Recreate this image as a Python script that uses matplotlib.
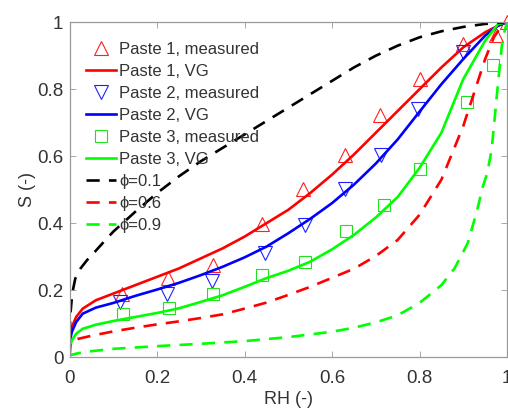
import numpy as np
import matplotlib
matplotlib.use('Agg')
import matplotlib.pyplot as plt

plt.rcParams['font.family'] = ['Liberation Sans', 'DejaVu Sans']

# measured points
p1_rh = [0.119, 0.226, 0.329, 0.441, 0.534, 0.630, 0.710, 0.800, 0.900, 0.976, 1.0]
p1_s = [0.19, 0.235, 0.275, 0.397, 0.503, 0.603, 0.722, 0.830, 0.936, 0.961, 1.0]
p2_rh = [0.115, 0.222, 0.325, 0.447, 0.538, 0.630, 0.712, 0.796, 0.900]
p2_s = [0.165, 0.19, 0.228, 0.31, 0.394, 0.503, 0.603, 0.742, 0.911]
p3_rh = [0.122, 0.228, 0.329, 0.439, 0.538, 0.632, 0.719, 0.800, 0.908, 0.968]
p3_s = [0.13, 0.148, 0.19, 0.245, 0.283, 0.376, 0.455, 0.563, 0.763, 0.873]

# VG fits
vg1_rh = [0, 0.001, 0.005, 0.015, 0.03, 0.06, 0.1, 0.15, 0.2, 0.25, 0.3, 0.35, 0.4,
          0.45, 0.5, 0.55, 0.6, 0.65, 0.7, 0.75, 0.8, 0.85, 0.9, 0.95, 0.98, 1.0]
vg1_s = [0, 0.06, 0.09, 0.12, 0.145, 0.17, 0.19, 0.215, 0.24, 0.265, 0.295, 0.325, 0.36,
         0.40, 0.44, 0.49, 0.545, 0.605, 0.67, 0.735, 0.80, 0.865, 0.925, 0.97, 0.99, 1.0]
vg2_rh = vg1_rh
vg2_s = [0, 0.05, 0.075, 0.105, 0.13, 0.148, 0.162, 0.183, 0.202, 0.222, 0.245, 0.27, 0.298,
         0.33, 0.37, 0.413, 0.46, 0.515, 0.578, 0.65, 0.733, 0.815, 0.89, 0.96, 0.99, 1.0]
vg3_rh = vg1_rh
vg3_s = [0, 0.03, 0.05, 0.07, 0.085, 0.097, 0.108, 0.12, 0.132, 0.146, 0.165, 0.185, 0.21,
         0.236, 0.258, 0.285, 0.322, 0.365, 0.417, 0.478, 0.565, 0.67, 0.83, 0.945, 0.995, 1.0]

# phi curves
phi1_rh = [0, 0.0005, 0.002, 0.006, 0.013, 0.025, 0.04, 0.06, 0.08, 0.1, 0.15, 0.2, 0.25, 0.3,
           0.35, 0.4, 0.45, 0.5, 0.55, 0.6, 0.65, 0.7, 0.75, 0.8, 0.85, 0.9, 0.95, 1.0]
phi1_s = [0, 0.08, 0.13, 0.19, 0.235, 0.265, 0.29, 0.318, 0.347, 0.375, 0.434, 0.49, 0.54, 0.585,
          0.625, 0.665, 0.705, 0.745, 0.785, 0.825, 0.865, 0.9, 0.93, 0.955, 0.973, 0.986, 0.995, 1.0]
phi6_rh = [0, 0.001, 0.003, 0.02, 0.05, 0.1, 0.15, 0.2, 0.25, 0.3, 0.35, 0.4, 0.45, 0.5,
           0.55, 0.6, 0.65, 0.7, 0.75, 0.8, 0.85, 0.9, 0.95, 0.97, 0.99, 1.0]
phi6_s = [0, 0.03, 0.045, 0.055, 0.064, 0.077, 0.088, 0.098, 0.107, 0.117, 0.128, 0.145, 0.163,
          0.186, 0.21, 0.237, 0.264, 0.302, 0.35, 0.425, 0.53, 0.69, 0.89, 0.955, 0.995, 1.0]
phi9_rh = [0, 0.001, 0.02, 0.05, 0.1, 0.2, 0.3, 0.4, 0.5, 0.6, 0.65, 0.7, 0.75, 0.8, 0.85,
           0.88, 0.91, 0.93, 0.945, 0.955, 0.965, 0.976, 0.985, 0.99, 1.0]
phi9_s = [0, 0.006, 0.012, 0.018, 0.025, 0.033, 0.04, 0.048, 0.06, 0.076, 0.088, 0.104, 0.125,
          0.162, 0.215, 0.265, 0.34, 0.43, 0.51, 0.55, 0.62, 0.77, 0.89, 0.95, 1.0]

fig = plt.figure(figsize=(5.08, 4.12), dpi=100)
ax = fig.add_axes([0.137, 0.133, 0.861, 0.813])

lw = 1.9
ms = 10
dash = (5, 3.5)

ax.plot(p1_rh, p1_s, '^', ms=ms, mfc='none', mec='#ff2020', mew=0.8, clip_on=False,
        label='Paste 1, measured')
ax.plot(vg1_rh, vg1_s, '-', color='#ff0000', lw=lw, label='Paste 1, VG')
ax.plot(p2_rh, p2_s, 'v', ms=ms, mfc='none', mec='#2020ff', mew=0.8, clip_on=False,
        label='Paste 2, measured')
ax.plot(vg2_rh, vg2_s, '-', color='#0000ff', lw=lw, label='Paste 2, VG')
ax.plot(p3_rh, p3_s, 's', ms=8, mfc='none', mec='#20e020', mew=0.8, clip_on=False,
        label='Paste 3, measured')
ax.plot(vg3_rh, vg3_s, '-', color='#00ff00', lw=lw, label='Paste 3, VG')
ax.plot(phi1_rh, phi1_s, '--', dashes=dash, color='black', lw=lw, label='\u03d5=0.1')
ax.plot(phi6_rh, phi6_s, '--', dashes=dash, color='#ff0000', lw=lw, label='\u03d5=0.6')
ax.plot(phi9_rh, phi9_s, '--', dashes=dash, color='#00ff00', lw=lw, label='\u03d5=0.9')

ax.set_xlim(0, 1)
ax.set_ylim(0, 1)
ticks = [0, 0.2, 0.4, 0.6, 0.8, 1]
labels = ['0', '0.2', '0.4', '0.6', '0.8', '1']
ax.set_xticks(ticks)
ax.set_xticklabels(labels)
ax.set_yticks(ticks)
ax.set_yticklabels(labels)
ax.tick_params(direction='in', top=True, right=True, length=4, width=0.6,
               colors='#999999', labelcolor='#333333', labelsize=13.5)
ax.tick_params(axis='x', pad=9)
ax.tick_params(axis='y', pad=4.5)
for s in ax.spines.values():
    s.set_color('#999999')
    s.set_linewidth(0.9)
ax.set_xlabel('RH (-)', fontsize=13, color='#333333', labelpad=3)
ax.set_ylabel('S (-)', fontsize=13, color='#333333', labelpad=1)

leg = ax.legend(loc='upper left', bbox_to_anchor=(-0.008, 1.0), frameon=False, fontsize=12,
                handlelength=1.8, handletextpad=0.2, labelspacing=0.42, borderaxespad=0.8)
for t in leg.get_texts():
    t.set_color('#333333')

fig.savefig('out.png', dpi=100)
